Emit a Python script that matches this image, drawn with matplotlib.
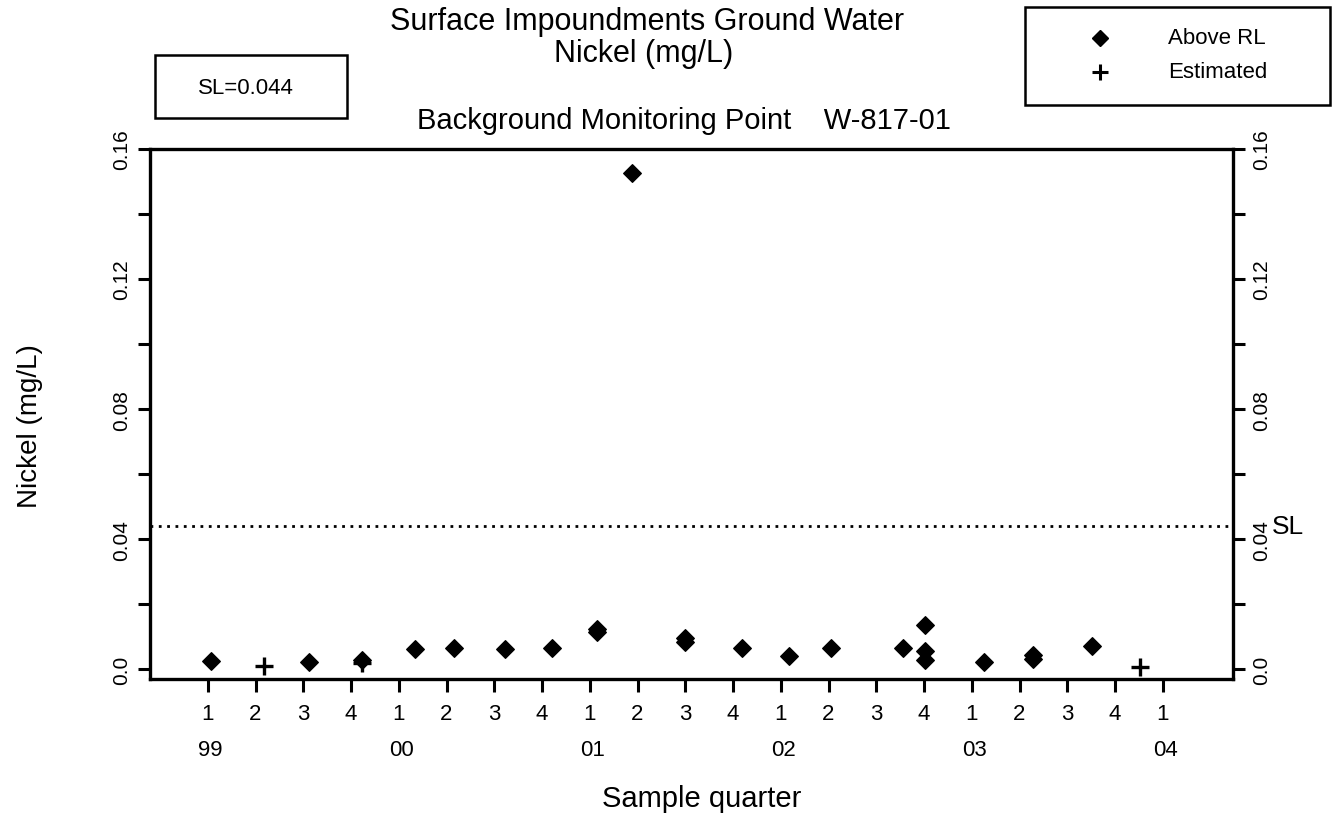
import matplotlib
matplotlib.use("Agg")
import matplotlib.pyplot as plt
from matplotlib.patches import Rectangle
from matplotlib.lines import Line2D

# ---- data ----
quarter_labels = ["1", "2", "3", "4"] * 5 + ["1"]
year_labels = ["99", "00", "01", "02", "03", "04"]
year_positions = [0, 4, 8, 12, 16, 20]

# detected ("Above RL") samples: position in quarters since 1Q99, value mg/L
above_x = [0.07, 2.12, 3.23, 4.35, 5.15, 6.23, 7.20, 8.16, 8.16, 8.88,
           10.0, 10.0, 11.18, 12.17, 13.06, 14.56, 15.03, 15.03, 15.03,
           16.25, 17.29, 17.29, 18.52]
above_y = [0.0025, 0.0022, 0.0028, 0.0063, 0.0064, 0.0063, 0.0065, 0.0125, 0.0115, 0.1525,
           0.0097, 0.0085, 0.0065, 0.0042, 0.0066, 0.0064, 0.0135, 0.0057, 0.0029,
           0.0022, 0.0044, 0.0031, 0.0072]

# estimated samples
est_x = [1.18, 3.23, 19.52]
est_y = [0.0011, 0.0019, 0.0008]

SL = 0.044

plt.rcParams['font.family'] = ['Liberation Sans', 'DejaVu Sans']

W, H = 1339, 828
fig = plt.figure(figsize=(W / 100, H / 100), dpi=100)
ax = fig.add_axes([150 / W, 1 - 680 / H, 1083 / W, 530 / H])

ax.scatter(above_x, above_y, marker='D', s=80, color='black', zorder=3)
ax.scatter(est_x, est_y, marker='+', s=150, color='black', linewidths=2.4, zorder=3)
ax.axhline(SL, color='black', linestyle=(0, (1, 2)), linewidth=2.0)

ax.set_xlim(-1.21, 21.47)
ax.set_ylim(-0.003, 0.16)

ax.set_xticks(range(len(quarter_labels)))
ax.set_xticklabels(quarter_labels, fontsize=16)
ax.tick_params(axis='x', direction='out', length=9.5, width=2.2, pad=8)

for pos, lab in zip(year_positions, year_labels):
    ax.text(pos + 0.05, -0.113, lab, ha='center', va='top', fontsize=16,
            transform=ax.get_xaxis_transform())

yt = [0.0, 0.04, 0.08, 0.12, 0.16]
ytl = ["0.0", "0.04", "0.08", "0.12", "0.16"]
ax.set_yticks(yt)
ax.set_yticklabels(ytl, rotation=90, va='center', fontsize=15)
ax.set_yticks([0.02, 0.06, 0.10, 0.14], minor=True)
ax.tick_params(axis='y', which='both', direction='out', length=8.6, width=2.2,
               left=True, right=True, labelleft=True, labelright=True, pad=5)

for s in ax.spines.values():
    s.set_linewidth(2.4)

ax.set_xlabel("Sample quarter", fontsize=21)
ax.xaxis.set_label_coords((702 - 150) / 1083, -0.198)
ax.set_ylabel("Nickel (mg/L)", fontsize=20)
ax.yaxis.set_label_coords(-0.0985, 0.48)

ax.text((1272 - 150) / 1083, SL, "SL", transform=ax.get_yaxis_transform(), fontsize=19,
        va='center', ha='left')

fig.text(647 / W, 1 - 30 / H, "Surface Impoundments Ground Water", ha='center', va='baseline', fontsize=22)
fig.text(644 / W, 1 - 62 / H, "Nickel (mg/L)", ha='center', va='baseline', fontsize=22)
fig.text(684 / W, 1 - 129 / H, "Background Monitoring Point    W-817-01", ha='center', va='baseline', fontsize=21)

# SL box
fig.patches.append(Rectangle((155 / W, 1 - 119 / H), 192 / W, 63 / H,
                             transform=fig.transFigure, fill=False, lw=1.8, ec='black'))
fig.text(246 / W, 1 - 88 / H, "SL=0.044", ha='center', va='center', fontsize=16)

# legend box
fig.patches.append(Rectangle((1025 / W, 1 - 106 / H), 305 / W, 98 / H,
                             transform=fig.transFigure, fill=False, lw=1.8, ec='black'))
fig.lines.append(Line2D([1100 / W], [1 - 39 / H], marker='D', ms=8, color='black',
                        linestyle='none', transform=fig.transFigure))
fig.lines.append(Line2D([1100 / W], [1 - 73 / H], marker='+', ms=12, mew=2.2, color='black',
                        linestyle='none', transform=fig.transFigure))
fig.text(1168 / W, 1 - 39 / H, "Above RL", ha='left', va='center', fontsize=16)
fig.text(1168 / W, 1 - 73 / H, "Estimated", ha='left', va='center', fontsize=16)

fig.savefig("out.png", dpi=100)
